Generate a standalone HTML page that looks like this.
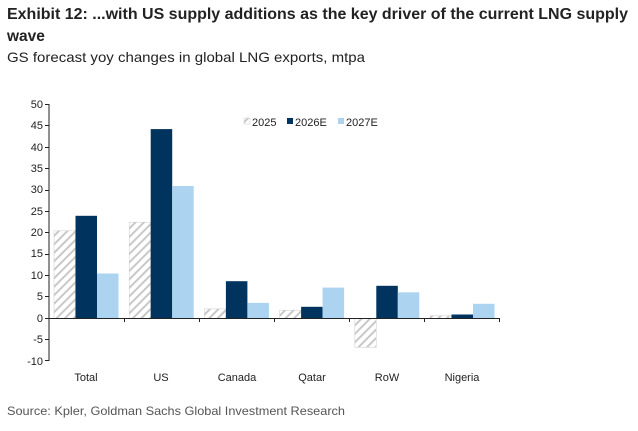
<!DOCTYPE html>
<html><head><meta charset="utf-8"><style>
html,body{margin:0;padding:0;background:#fff;}
svg{display:block;}
</style></head><body>
<svg width="638" height="431" viewBox="0 0 638 431" xmlns="http://www.w3.org/2000/svg" font-family="Liberation Sans, Arial, sans-serif">
<defs>
<pattern id="h" patternUnits="userSpaceOnUse" width="6" height="6" patternTransform="rotate(45)">
<rect width="6" height="6" fill="#fff"/>
<rect width="2" height="6" fill="#c8c8c8"/>
</pattern>
</defs>
<text x="7" y="19" font-size="15.5" font-weight="bold" fill="#222" textLength="621" lengthAdjust="spacingAndGlyphs">Exhibit 12: ...with US supply additions as the key driver of the current LNG supply</text>
<text x="7" y="41" font-size="15.5" font-weight="bold" fill="#222">wave</text>
<text x="7" y="62" font-size="14" fill="#222" textLength="358" lengthAdjust="spacingAndGlyphs">GS forecast yoy changes in global LNG exports, mtpa</text>
<g font-size="11" fill="#222" text-anchor="end">
<text x="43" y="108">50</text><text x="43" y="129">45</text><text x="43" y="151">40</text><text x="43" y="172">35</text><text x="43" y="193">30</text><text x="43" y="215">25</text><text x="43" y="236">20</text><text x="43" y="257">15</text><text x="43" y="279">10</text><text x="43" y="300">5</text><text x="43" y="322">0</text><text x="43" y="343">-5</text><text x="43" y="365">-10</text>
</g>
<g id="bars">
<!-- scale 4.27 px/unit, zero at 318.3 -->
<rect x="54" y="230.8" width="21.5" height="87.5" fill="url(#h)" stroke="#ccc" stroke-width="0.5"/>
<rect x="75.5" y="215.8" width="21.5" height="102.5" fill="#00335e"/>
<rect x="97" y="273.5" width="21.5" height="44.8" fill="#acd3f0"/>

<rect x="129.2" y="222.2" width="21.5" height="96.1" fill="url(#h)" stroke="#ccc" stroke-width="0.5"/>
<rect x="150.7" y="129.1" width="21.5" height="189.2" fill="#00335e"/>
<rect x="172.2" y="186" width="21.5" height="132.3" fill="#acd3f0"/>

<rect x="204.4" y="308.9" width="21.5" height="9.4" fill="url(#h)" stroke="#ccc" stroke-width="0.5"/>
<rect x="225.9" y="281.2" width="21.5" height="37.1" fill="#00335e"/>
<rect x="247.4" y="302.9" width="21.5" height="15.4" fill="#acd3f0"/>

<rect x="279.6" y="310.2" width="21.5" height="8.1" fill="url(#h)" stroke="#ccc" stroke-width="0.5"/>
<rect x="301.1" y="306.8" width="21.5" height="11.5" fill="#00335e"/>
<rect x="322.6" y="287.6" width="21.5" height="30.7" fill="#acd3f0"/>

<rect x="354.8" y="318.3" width="21.5" height="29" fill="url(#h)" stroke="#ccc" stroke-width="0.5"/>
<rect x="376.3" y="285.8" width="21.5" height="32.5" fill="#00335e"/>
<rect x="397.8" y="292.3" width="21.5" height="26" fill="#acd3f0"/>

<rect x="430" y="315.7" width="21.5" height="2.6" fill="url(#h)" stroke="#ccc" stroke-width="0.5"/>
<rect x="451.5" y="314.5" width="21.5" height="3.8" fill="#00335e"/>
<rect x="473" y="303.8" width="21.5" height="14.5" fill="#acd3f0"/>
</g>
<g stroke="#222" stroke-width="1">
<line x1="49" y1="104" x2="49" y2="361"/>
<line x1="49" y1="318.5" x2="500" y2="318.5"/>
<line x1="45" y1="104.5" x2="49" y2="104.5"/><line x1="45" y1="125.5" x2="49" y2="125.5"/><line x1="45" y1="147.5" x2="49" y2="147.5"/><line x1="45" y1="168.5" x2="49" y2="168.5"/><line x1="45" y1="190.5" x2="49" y2="190.5"/><line x1="45" y1="211.5" x2="49" y2="211.5"/><line x1="45" y1="232.5" x2="49" y2="232.5"/><line x1="45" y1="254.5" x2="49" y2="254.5"/><line x1="45" y1="275.5" x2="49" y2="275.5"/><line x1="45" y1="296.5" x2="49" y2="296.5"/><line x1="45" y1="318.5" x2="49" y2="318.5"/><line x1="45" y1="339.5" x2="49" y2="339.5"/><line x1="45" y1="360.5" x2="49" y2="360.5"/>
<line x1="124.5" y1="318" x2="124.5" y2="322"/><line x1="199.5" y1="318" x2="199.5" y2="322"/><line x1="274.5" y1="318" x2="274.5" y2="322"/><line x1="349.5" y1="318" x2="349.5" y2="322"/><line x1="424.5" y1="318" x2="424.5" y2="322"/><line x1="499.5" y1="318" x2="499.5" y2="322"/>
</g>
<g font-size="11" fill="#222" text-anchor="middle">
<text x="86" y="381">Total</text><text x="161" y="381">US</text><text x="237" y="381">Canada</text><text x="312" y="381">Qatar</text><text x="387" y="381">RoW</text><text x="462" y="381">Nigeria</text>
</g>
<g font-size="11" fill="#222">
<rect x="244" y="118" width="6" height="6" fill="url(#h)" stroke="#ccc" stroke-width="0.5"/>
<text x="252" y="126">2025</text>
<rect x="287" y="118" width="6" height="6" fill="#00335e"/>
<text x="295" y="126">2026E</text>
<rect x="338" y="118" width="6" height="6" fill="#acd3f0"/>
<text x="346" y="126">2027E</text>
</g>
<text x="7" y="415" font-size="12" fill="#555" textLength="338" lengthAdjust="spacingAndGlyphs">Source: Kpler, Goldman Sachs Global Investment Research</text>
</svg>
</body></html>
